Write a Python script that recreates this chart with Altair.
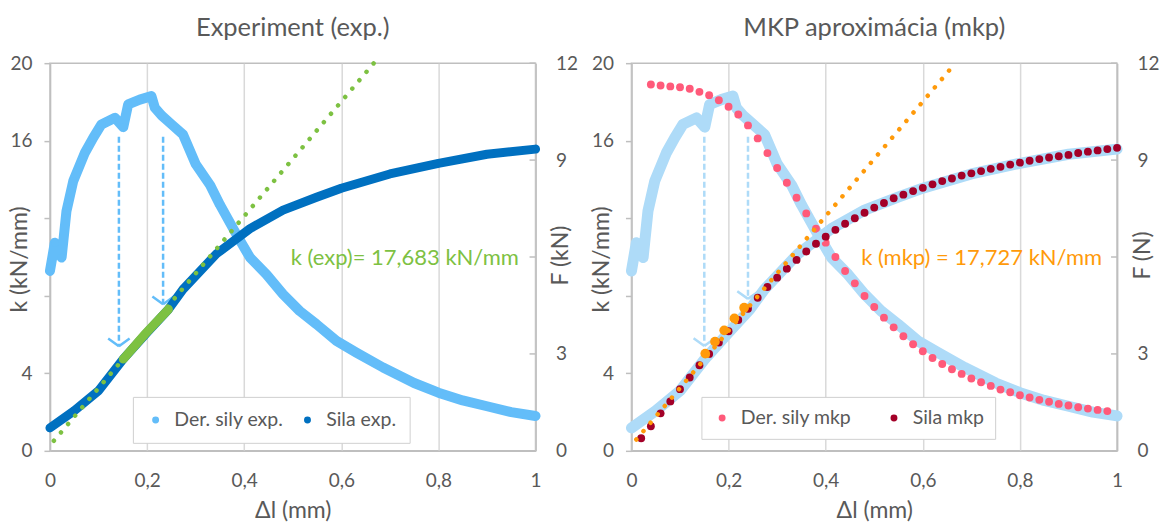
import altair as alt
import pandas as pd

# ---------------- data ----------------
# Experiment: derivative of force  k (kN/mm)
exp_k_dl = [0, 0.01, 0.024, 0.034, 0.048, 0.072, 0.089, 0.106, 0.134, 0.151, 0.161,
            0.185, 0.209, 0.216, 0.23, 0.247, 0.274, 0.3, 0.33, 0.35, 0.384, 0.412,
            0.446, 0.48, 0.514, 0.549, 0.59, 0.631, 0.686, 0.75, 0.8, 0.85, 0.9, 0.95, 1.0]
exp_k = [9.28, 10.74, 9.97, 12.37, 13.92, 15.38, 16.15, 16.84, 17.18, 16.7, 17.87,
         18.12, 18.3, 17.7, 17.3, 16.92, 16.32, 14.8, 13.7, 12.7, 11.17, 9.97,
         9.1, 8.08, 7.22, 6.53, 5.67, 5.07, 4.3, 3.5, 3.0, 2.6, 2.3, 2.0, 1.8]
# Experiment: force F (kN)
exp_F_dl = [0, 0.05, 0.1, 0.151, 0.2, 0.244, 0.274, 0.343, 0.412, 0.48, 0.549,
            0.6, 0.7, 0.8, 0.9, 1.0]
exp_F = [0.71, 1.24, 1.86, 2.84, 3.66, 4.38, 5.0, 6.1, 6.88, 7.45, 7.85,
         8.13, 8.57, 8.9, 9.18, 9.34]
# fitted segment and trend line (exp)
fit_exp_dl = [0.151, 0.195, 0.244]
fit_exp_F = [2.84, 3.6, 4.38]
trend_exp_dl = [0.008, 0.667]
trend_exp_F = [0.31, 12.0]
arrow_exp_dl = [0.142, 0.233]
arrow_exp_top = [16.2, 16.2]
arrow_exp_tip = [5.4, 7.56]

# MKP: derivative of force k (kN/mm)
mkp_k_dl = [0.04, 0.06, 0.08, 0.10, 0.12, 0.14, 0.16, 0.18, 0.20, 0.22, 0.24, 0.26,
            0.28, 0.30, 0.32, 0.34, 0.36, 0.38, 0.40, 0.42, 0.44, 0.46, 0.48, 0.50,
            0.52, 0.54, 0.56, 0.58, 0.60, 0.62, 0.64, 0.66, 0.68, 0.70, 0.72, 0.74,
            0.76, 0.78, 0.80, 0.82, 0.84, 0.86, 0.88, 0.90, 0.92, 0.94, 0.96, 0.98]
mkp_k = [18.9, 18.85, 18.8, 18.76, 18.68, 18.52, 18.35, 18.09, 17.75, 17.35, 16.79, 16.12,
         15.36, 14.59, 13.83, 13.06, 12.25, 11.46, 10.74, 10.0, 9.28, 8.64, 7.99, 7.42,
         6.87, 6.37, 5.91, 5.5, 5.14, 4.79, 4.48, 4.21, 3.97, 3.73, 3.54, 3.35,
         3.16, 3.02, 2.87, 2.75, 2.63, 2.53, 2.42, 2.34, 2.25, 2.18, 2.11, 2.05]
# MKP: force F
mkp_F_dl = [0.02, 0.04, 0.06, 0.08, 0.10, 0.12, 0.14, 0.16, 0.18, 0.20, 0.22, 0.24,
            0.26, 0.28, 0.30, 0.32, 0.34, 0.36, 0.38, 0.40, 0.42, 0.44, 0.46, 0.48,
            0.50, 0.52, 0.54, 0.56, 0.58, 0.60, 0.62, 0.64, 0.66, 0.68, 0.70, 0.72,
            0.74, 0.76, 0.78, 0.80, 0.82, 0.84, 0.86, 0.88, 0.90, 0.92, 0.94, 0.96,
            0.98, 1.00]
mkp_F = [0.39, 0.76, 1.16, 1.53, 1.91, 2.27, 2.65, 3.0, 3.35, 3.7, 4.05, 4.4,
         4.74, 5.07, 5.36, 5.64, 5.91, 6.17, 6.41, 6.63, 6.84, 7.03, 7.2, 7.37,
         7.53, 7.67, 7.82, 7.93, 8.04, 8.14, 8.25, 8.35, 8.43, 8.52, 8.59, 8.66,
         8.73, 8.79, 8.86, 8.92, 8.98, 9.03, 9.08, 9.12, 9.16, 9.22, 9.26, 9.3,
         9.34, 9.38]
fit_mkp_dl = [0.152, 0.172, 0.191, 0.212, 0.232]
fit_mkp_F = [3.01, 3.38, 3.73, 4.1, 4.43]
trend_mkp_dl = [0.01, 0.667]
trend_mkp_F = [0.35, 12.0]
arrow_mkp_dl = [0.15, 0.24]
arrow_mkp_top = [16.2, 16.2]
arrow_mkp_tip = [5.41, 7.84]

X_TICKS = [0, 0.2, 0.4, 0.6, 0.8, 1]
K_TICKS = [0, 4, 8, 12, 16, 20]
F_TICKS = [0, 3, 6, 9, 12]

# ---------------- style ----------------
FONT = "Lato"
GREY = "#595959"
LIGHT_BLUE = "#63BDF9"
PALE_BLUE = "#AEDBF8"
DARK_BLUE = "#0070C0"
GREEN = "#7DC142"
ORANGE = "#FF9A0A"
PINK = "#FF5A7A"
DARK_RED = "#A30028"
AXIS_GREY = "#BFBFBF"
W, H = 486, 388

ARROW_SHAPE = "M -1 -0.72 L 0 0 M 1 -0.72 L 0 0"


def df(**cols):
    return pd.DataFrame(cols)


def xenc(field="dl"):
    return alt.X(
        f"{field}:Q",
        scale=alt.Scale(domain=[0, 1], nice=False),
        axis=alt.Axis(values=X_TICKS, title="Δl (mm)", grid=True, gridColor="#D9D9D9",
                      gridWidth=1.5, ticks=False, labelPadding=21, titlePadding=9,
                      labelFlush=False,
                      labelExpr="replace(format(datum.value, '.1~f'), '.', ',')"),
    )


def kenc(field="k"):
    return alt.Y(
        f"{field}:Q",
        scale=alt.Scale(domain=[0, 20], nice=False),
        axis=alt.Axis(orient="left", values=K_TICKS, title="k (kN/mm)", grid=False,
                      tickSize=6, labelPadding=12, labelFlush=False,
                      labelExpr="(datum.value == 8 || datum.value == 12) ? '' : datum.label",
                      titleX=-30, titleY=196, titleAngle=270, titleAlign="center",
                      titleBaseline="middle"),
    )


def fenc(title, field="F"):
    return alt.Y(
        f"{field}:Q",
        scale=alt.Scale(domain=[0, 12], nice=False),
        axis=alt.Axis(orient="right", values=F_TICKS, title=title, grid=False,
                      ticks=False, labelPadding=20, labelFlush=False,
                      labelExpr="datum.value == 6 ? '' : datum.label",
                      titleX=25, titleY=192, titleAngle=270, titleAlign="center",
                      titleBaseline="middle"),
    )


def inner_ticks(title):
    # short tick marks pointing inward from the right-hand axis
    return alt.Chart(df(F=F_TICKS)).mark_rule(color=AXIS_GREY, strokeWidth=1.5).encode(
        y=fenc(title), x=alt.value(W - 6), x2=alt.value(W))


def arrows(dl, top, tip, color):
    d = df(dl=dl, k=top, k2=tip)
    rule = alt.Chart(d).mark_rule(color=color, strokeWidth=2.5, strokeDash=[6, 3]).encode(
        x=xenc(), y=kenc(), y2="k2:Q")
    head = alt.Chart(df(dl=dl, k=tip)).mark_point(
        shape=ARROW_SHAPE, size=460, filled=False, color=color, strokeWidth=2.5,
        opacity=1).encode(x=xenc(), y=kenc())
    return rule, head


def legend(lx, ly, pad, colpad):
    return alt.Legend(orient="none", legendX=lx, legendY=ly, direction="horizontal",
                      title=None, fillColor="white", strokeColor="#D0D0D0",
                      padding=pad, symbolType="circle", symbolSize=48,
                      labelFont=FONT, labelFontSize=19.5, labelColor=GREY,
                      labelOffset=9, columnPadding=colpad, symbolStrokeWidth=0)


def panel(title, k_layers, f_layers):
    return alt.layer(
        alt.layer(*k_layers),
        alt.layer(*f_layers),
    ).resolve_scale(y="independent").properties(
        width=W, height=H,
        title=alt.TitleParams(title, font=FONT, fontSize=25.5, fontWeight="normal",
                              color=GREY, offset=13),
    )


# ---------------- left panel ----------------
leg_exp_dom = ["Der. sily exp.", "Sila exp."]
leg_exp_col = [LIGHT_BLUE, DARK_BLUE]
cexp = alt.Color("series:N", scale=alt.Scale(domain=leg_exp_dom, range=leg_exp_col),
                 legend=legend(83, 334, 13, 14))

d_k_exp = df(dl=exp_k_dl, k=exp_k, series=["Der. sily exp."] * len(exp_k))
d_F_exp = df(dl=exp_F_dl, F=exp_F, series=["Sila exp."] * len(exp_F))

k_line = alt.Chart(d_k_exp).mark_line(color=LIGHT_BLUE, strokeWidth=10, strokeCap="round",
                                      strokeJoin="round").encode(x=xenc(), y=kenc())
k_pts = alt.Chart(d_k_exp).mark_circle(size=60, opacity=1).encode(x=xenc(), y=kenc(), color=cexp)
r1, h1 = arrows(arrow_exp_dl, arrow_exp_top, arrow_exp_tip, LIGHT_BLUE)
k_label = alt.Chart(df(dl=[0.496], k=[9.95], t=["k (exp)= 17,683 kN/mm"])).mark_text(
    align="left", baseline="middle", font=FONT, fontSize=22, color=GREEN).encode(
    x=xenc(), y=kenc(), text="t:N")

F_line = alt.Chart(d_F_exp).mark_line(color=DARK_BLUE, strokeWidth=9, strokeCap="round",
                                      strokeJoin="round").encode(x=xenc(), y=fenc("F (kN)"))
F_pts = alt.Chart(d_F_exp).mark_circle(size=55, opacity=1).encode(
    x=xenc(), y=fenc("F (kN)"), color=cexp)
fit_line = alt.Chart(df(dl=fit_exp_dl, F=fit_exp_F)).mark_line(
    color=GREEN, strokeWidth=9, strokeCap="round").encode(x=xenc(), y=fenc("F (kN)"))
trend = alt.Chart(df(dl=trend_exp_dl, F=trend_exp_F)).mark_line(
    color=GREEN, strokeWidth=4.5, strokeCap="round", strokeDash=[0.1, 10.9]).encode(
    x=xenc(), y=fenc("F (kN)"))

left = panel("Experiment (exp.)",
             [k_line, k_pts, r1, h1, k_label],
             [inner_ticks("F (kN)"), F_pts, F_line, fit_line, trend])

# ---------------- right panel ----------------
leg_mkp_dom = ["Der. sily mkp", "Sila mkp"]
leg_mkp_col = [PINK, DARK_RED]
cmkp = alt.Color("series:N", scale=alt.Scale(domain=leg_mkp_dom, range=leg_mkp_col),
                 legend=legend(70, 334, 11, 32))

k_bg = alt.Chart(d_k_exp).mark_line(color=PALE_BLUE, strokeWidth=11, strokeCap="round",
                                    strokeJoin="round").encode(x=xenc(), y=kenc())
r2, h2 = arrows(arrow_mkp_dl, arrow_mkp_top, arrow_mkp_tip, PALE_BLUE)
k_mkp = alt.Chart(df(dl=mkp_k_dl, k=mkp_k, series=["Der. sily mkp"] * len(mkp_k))).mark_circle(
    size=62, opacity=1).encode(x=xenc(), y=kenc(), color=cmkp)
k_label2 = alt.Chart(df(dl=[0.473], k=[9.95], t=["k (mkp) = 17,727 kN/mm"])).mark_text(
    align="left", baseline="middle", font=FONT, fontSize=22, color=ORANGE).encode(
    x=xenc(), y=kenc(), text="t:N")

F_bg = alt.Chart(d_F_exp).mark_line(color=PALE_BLUE, strokeWidth=11, strokeCap="round",
                                    strokeJoin="round").encode(x=xenc(), y=fenc("F (N)"))
F_mkp = alt.Chart(df(dl=mkp_F_dl, F=mkp_F, series=["Sila mkp"] * len(mkp_F))).mark_circle(
    size=62, opacity=1).encode(x=xenc(), y=fenc("F (N)"), color=cmkp)
trend2 = alt.Chart(df(dl=trend_mkp_dl, F=trend_mkp_F)).mark_line(
    color=ORANGE, strokeWidth=4.5, strokeCap="round", strokeDash=[0.1, 10.9]).encode(
    x=xenc(), y=fenc("F (N)"))
fit2 = alt.Chart(df(dl=fit_mkp_dl, F=fit_mkp_F)).mark_circle(
    size=95, opacity=1, color=ORANGE).encode(x=xenc(), y=fenc("F (N)"))

right = panel("MKP aproximácia (mkp)",
              [k_bg, r2, h2, k_mkp, k_label2],
              [inner_ticks("F (N)"), F_bg, F_mkp, trend2, fit2])

chart = alt.hconcat(left, right, spacing=11).resolve_scale(color="independent").properties(
    padding={"left": 8, "top": 14, "right": 0, "bottom": 0},
    background="white",
).configure_view(stroke=AXIS_GREY, strokeWidth=1.5).configure_axis(
    labelFont=FONT, labelFontSize=19, labelColor=GREY,
    titleFont=FONT, titleFontSize=23, titleColor=GREY, titleFontWeight="normal",
    domainColor=AXIS_GREY, domainWidth=1.5, tickColor=AXIS_GREY, tickWidth=1.5,
)

chart.save("out.html", embed_options={"renderer": "svg", "actions": False})
